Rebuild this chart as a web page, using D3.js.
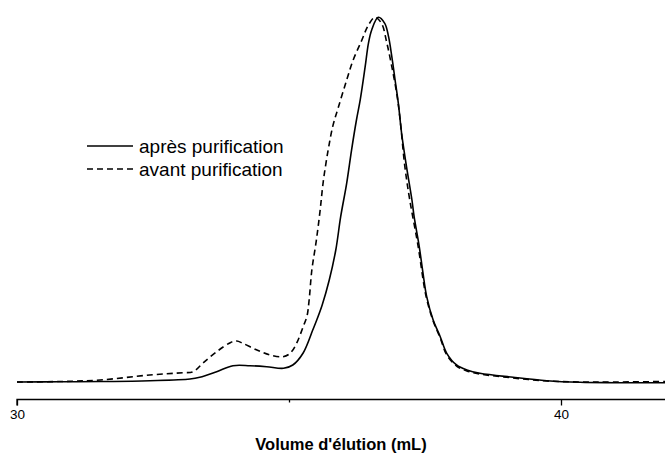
<!DOCTYPE html>
<html>
<head>
<meta charset="utf-8">
<script src="https://cdn.jsdelivr.net/npm/d3@7"></script>
<style>
  html, body { margin: 0; padding: 0; background: #fff; }
  svg { display: block; }
</style>
</head>
<body>
<svg id="chart" width="665" height="455"></svg>
<script>
// Elution volume (mL) and normalised absorbance (%) for each chromatogram
const volApres = [30.00, 30.79, 31.53, 32.44, 33.18, 33.36, 33.67, 33.97, 34.28, 34.59, 34.90, 35.07, 35.26, 35.44, 35.51, 35.61, 35.74, 35.86, 35.95, 36.06, 36.15, 36.24, 36.31, 36.40, 36.46, 36.52, 36.64, 36.76, 36.83, 36.89, 36.95, 37.01, 37.07, 37.16, 37.26, 37.30, 37.39, 37.46, 37.53, 37.65, 37.78, 37.90, 38.08, 38.27, 38.51, 39.12, 39.74, 40.35, 40.96, 41.95];
const absApres = [0.27, 0.33, 0.41, 0.63, 1.09, 1.56, 3.09, 4.73, 4.73, 4.45, 4.02, 4.92, 8.20, 14.60, 17.21, 21.31, 28.14, 36.34, 45.44, 54.56, 63.66, 71.86, 77.42, 86.42, 92.81, 96.45, 99.92, 98.28, 94.62, 89.15, 82.79, 76.42, 68.22, 59.10, 50.00, 45.44, 37.70, 30.37, 23.68, 17.21, 12.65, 8.11, 4.92, 3.55, 2.65, 1.56, 0.63, 0.19, 0.08, 0.08];

const volAvant = [30.00, 30.79, 31.53, 32.44, 33.05, 33.24, 33.42, 33.67, 33.92, 34.04, 34.15, 34.41, 34.65, 34.89, 35.02, 35.14, 35.26, 35.33, 35.37, 35.42, 35.50, 35.57, 35.63, 35.72, 35.81, 35.91, 36.06, 36.18, 36.34, 36.46, 36.58, 36.70, 36.80, 36.89, 36.98, 37.04, 37.13, 37.22, 37.37, 37.52, 37.65, 37.78, 37.90, 38.08, 38.27, 38.51, 39.12, 39.74, 40.35, 40.96, 41.95];
const absAvant = [0.27, 0.41, 0.82, 2.19, 2.81, 3.09, 5.46, 8.55, 11.01, 11.48, 10.85, 9.02, 7.65, 7.19, 8.11, 10.85, 15.38, 18.21, 22.68, 30.87, 38.70, 46.90, 55.06, 63.66, 70.46, 75.46, 82.79, 88.25, 93.72, 97.81, 99.92, 98.28, 92.81, 86.42, 79.15, 72.32, 59.10, 50.00, 37.70, 23.68, 16.94, 12.30, 7.65, 4.64, 3.28, 2.46, 1.37, 0.55, 0.27, 0.27, 0.41];

const tickValues = [30, 35, 40];
const tickLabels = ["30", "", "40"];
const seriesNames = ["après purification", "avant purification"];
const axisTitle = "Volume d'élution (mL)";

const svg = d3.select("#chart");
const font = "'Liberation Sans', Arial, sans-serif";

const x = d3.scaleLinear().domain([30, 42]).range([17, 17 + 12 * 54.4]);
const y = d3.scaleLinear().domain([0, 100]).range([383, 17]);

const line = d3.line()
  .x(d => x(d[0]))
  .y(d => y(d[1]))
  .curve(d3.curveCatmullRom.alpha(0.5));

const apres = d3.zip(volApres, absApres);
const avant = d3.zip(volAvant, absAvant);

svg.append("defs").append("clipPath").attr("id", "plot-clip")
  .append("rect").attr("x", 0).attr("y", 0).attr("width", 665).attr("height", 398);

const plot = svg.append("g").attr("clip-path", "url(#plot-clip)");

plot.append("path")
  .datum(avant)
  .attr("d", line)
  .attr("fill", "none")
  .attr("stroke", "#000")
  .attr("stroke-width", 1.6)
  .attr("stroke-dasharray", "6,4");

plot.append("path")
  .datum(apres)
  .attr("d", line)
  .attr("fill", "none")
  .attr("stroke", "#000")
  .attr("stroke-width", 1.6);

// Bottom axis: labelled major ticks at 30 and 40, short unlabelled tick at 35
const axis = d3.axisBottom(x)
  .tickValues(tickValues)
  .tickSize(6)
  .tickPadding(4)
  .tickFormat((d, i) => tickLabels[i]);

const gAxis = svg.append("g")
  .attr("transform", "translate(0,399.5)")
  .call(axis);

gAxis.select(".domain")
  .attr("d", `M${x(30)},6V0H665`)
  .attr("stroke", "#000")
  .attr("stroke-width", 1.3);
gAxis.selectAll(".tick line")
  .attr("stroke", "#000")
  .attr("stroke-width", 1.3)
  .attr("y2", d => d === 35 ? 3 : 6);
gAxis.selectAll(".tick text")
  .attr("font-family", font)
  .attr("font-size", 13.5)
  .attr("fill", "#000");

svg.append("text")
  .attr("x", 341)
  .attr("y", 450)
  .attr("text-anchor", "middle")
  .attr("font-family", font)
  .attr("font-size", 16.5)
  .attr("font-weight", "bold")
  .text(axisTitle);

// Legend
const legend = svg.append("g");
const legendRows = [
  { name: seriesNames[0], dash: null, y: 146 },
  { name: seriesNames[1], dash: "6,4", y: 169 }
];
legendRows.forEach(r => {
  legend.append("line")
    .attr("x1", 87).attr("x2", 133)
    .attr("y1", r.y).attr("y2", r.y)
    .attr("stroke", "#000")
    .attr("stroke-width", 1.3)
    .attr("stroke-dasharray", r.dash);
  legend.append("text")
    .attr("x", 139)
    .attr("y", r.y + 7)
    .attr("font-family", font)
    .attr("font-size", 19)
    .attr("fill", "#000")
    .text(r.name);
});
</script>
</body>
</html>
